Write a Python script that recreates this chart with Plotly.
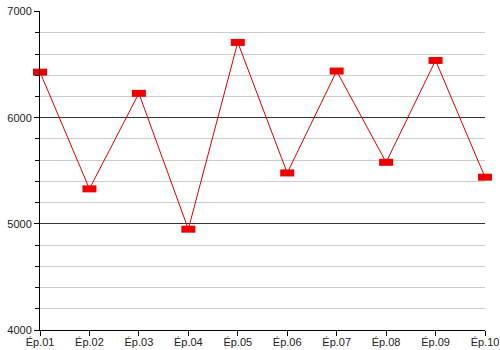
import plotly.graph_objects as go

episodes = ["Ép.01", "Ép.02", "Ép.03", "Ép.04", "Ép.05", "Ép.06", "Ép.07", "Ép.08", "Ép.09", "Ép.10"]
values = [6430, 5330, 6230, 4950, 6710, 5480, 6440, 5580, 6540, 5440]
y_ticks = [4000, 5000, 6000, 7000]

x_idx = list(range(len(episodes)))

fig = go.Figure()
fig.add_trace(go.Scatter(
    x=x_idx, y=values, mode="lines",
    line=dict(color="#dd0000", width=1),
    cliponaxis=False, showlegend=False,
))
fig.add_trace(go.Scatter(
    x=x_idx, y=values, mode="markers",
    marker=dict(symbol="line-ew", size=10, color="#ee0000",
                line=dict(width=7, color="#ee0000")),
    cliponaxis=False, showlegend=False,
))

fig.update_layout(
    width=500, height=350,
    margin=dict(l=40, r=15, t=11, b=20),
    paper_bgcolor="white", plot_bgcolor="white",
    font=dict(family="Liberation Sans, Arial, sans-serif", size=11, color="#222222"),
    xaxis=dict(
        range=[0, len(episodes) - 1],
        tickvals=x_idx, ticktext=episodes,
        showgrid=False, zeroline=False, automargin=False,
        showline=True, linecolor="#000000", linewidth=1,
        ticks="outside", ticklen=5, tickcolor="#000000",
        ticklabelstandoff=-3,
        tickfont=dict(size=11, color="#222222"),
    ),
    yaxis=dict(
        range=[4000, 7006],
        tickvals=y_ticks,
        showgrid=True, gridcolor="#333333", gridwidth=1,
        zeroline=False, automargin=False,
        showline=True, linecolor="#000000", linewidth=1,
        ticks="outside", ticklen=5, tickcolor="#000000",
        tickfont=dict(size=11, color="#222222"),
        minor=dict(dtick=200, showgrid=True, gridcolor="#cccccc", gridwidth=1,
                   ticks="outside", ticklen=4, tickcolor="#000000"),
    ),
)

fig.write_html("out.html")
